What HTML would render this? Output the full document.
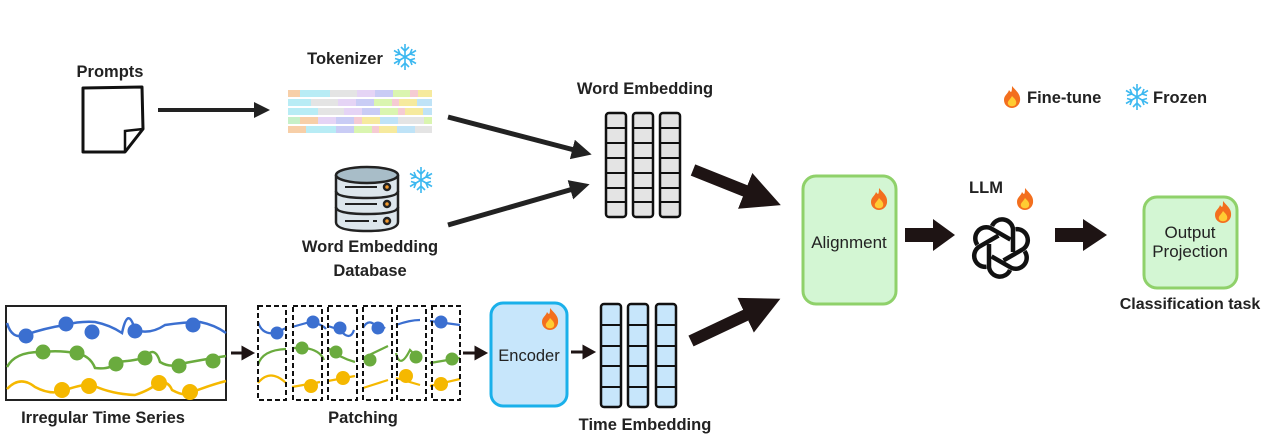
<!DOCTYPE html>
<html><head><meta charset="utf-8"><style>
html,body{margin:0;padding:0;background:#fff;}
svg{display:block;}
text{font-family:"Liberation Sans",sans-serif;font-weight:bold;fill:#222;}
.n{font-weight:normal;}
</style></head><body>
<svg width="1270" height="443" viewBox="0 0 1270 443" xmlns="http://www.w3.org/2000/svg">
<defs>
<marker id="ah" markerWidth="4" markerHeight="4" refX="2" refY="2" orient="auto" markerUnits="strokeWidth"><path d="M0,0 L4,2 L0,4 z" fill="#222"/></marker>
<marker id="ah2" markerWidth="3.2" markerHeight="3.2" refX="1.6" refY="1.6" orient="auto" markerUnits="strokeWidth"><path d="M0,0 L3.2,1.6 L0,3.2 z" fill="#1e1414"/></marker>
<g id="snow" stroke="#3cb8f0" stroke-width="1.6" fill="none">
<path d="M0,-13V13M-11,-6.5L11,6.5M-11,6.5L11,-6.5"/>
<path d="M-4,-10L0,-6L4,-10M-4,10L0,6L4,10M-10,-1.5L-5,-3L-7,-8M10,1.5L5,3L7,8M-10,1.5L-5,3L-7,8M10,-1.5L5,-3L7,-8"/>
</g>
<g id="fire"><path d="M0,-11 C4,-6 9,-3 8,4 C7,9 3,11 0,11 C-4,11 -8,8 -8,3 C-8,-2 -4,-3 -3,-7 C-1,-4 0,-4 0,-11z" fill="#f36f1e"/><path d="M0,-1 C3,2 5,4 4,7 C3,10 -3,10 -4,7 C-5,4 -2,3 0,-1z" fill="#ffcc33"/></g>
</defs>

<!-- Prompts -->
<text x="110" y="77" font-size="16.5" text-anchor="middle">Prompts</text>
<path d="M83,88 L142,87 L143,129 L125,152 L83,152 Z" fill="#fff" stroke="#111" stroke-width="3" stroke-linejoin="round"/>
<path d="M125,152 L125,131 L143,129" fill="none" stroke="#111" stroke-width="2.5"/>
<line x1="158" y1="110" x2="262" y2="110" stroke="#222" stroke-width="4" marker-end="url(#ah)"/>

<!-- Tokenizer -->
<text x="345" y="64" font-size="16.5" text-anchor="middle">Tokenizer</text>
<use href="#snow" x="405" y="57"/>
<g>
<rect x="288" y="90" width="12" height="7" fill="#f7cfa8"/><rect x="300" y="90" width="30" height="7" fill="#b8ecf5"/><rect x="330" y="90" width="27" height="7" fill="#e4e4e4"/><rect x="357" y="90" width="18" height="7" fill="#e5d4f5"/><rect x="375" y="90" width="18" height="7" fill="#c9ccf5"/><rect x="393" y="90" width="17" height="7" fill="#daf5b0"/><rect x="410" y="90" width="8" height="7" fill="#f5cbd3"/><rect x="418" y="90" width="14" height="7" fill="#f6ea9e"/>
<rect x="288" y="99" width="23" height="7" fill="#b8ecf5"/><rect x="311" y="99" width="27" height="7" fill="#e4e4e4"/><rect x="338" y="99" width="18" height="7" fill="#e5d4f5"/><rect x="356" y="99" width="18" height="7" fill="#c9ccf5"/><rect x="374" y="99" width="18" height="7" fill="#daf5b0"/><rect x="392" y="99" width="7" height="7" fill="#f5cbd3"/><rect x="399" y="99" width="18" height="7" fill="#f6ea9e"/><rect x="417" y="99" width="15" height="7" fill="#bfe3f7"/>
<rect x="288" y="108" width="30" height="7" fill="#b8ecf5"/><rect x="318" y="108" width="26" height="7" fill="#e4e4e4"/><rect x="344" y="108" width="18" height="7" fill="#e5d4f5"/><rect x="362" y="108" width="18" height="7" fill="#c9ccf5"/><rect x="380" y="108" width="18" height="7" fill="#daf5b0"/><rect x="398" y="108" width="7" height="7" fill="#f5cbd3"/><rect x="405" y="108" width="18" height="7" fill="#f6ea9e"/><rect x="423" y="108" width="9" height="7" fill="#bfe3f7"/>
<rect x="288" y="117" width="12" height="7" fill="#c6f0c8"/><rect x="300" y="117" width="18" height="7" fill="#f7cfa8"/><rect x="318" y="117" width="18" height="7" fill="#e5d4f5"/><rect x="336" y="117" width="18" height="7" fill="#c9ccf5"/><rect x="354" y="117" width="8" height="7" fill="#f5cbd3"/><rect x="362" y="117" width="18" height="7" fill="#f6ea9e"/><rect x="380" y="117" width="18" height="7" fill="#bfe3f7"/><rect x="398" y="117" width="26" height="7" fill="#e4e4e4"/><rect x="424" y="117" width="8" height="7" fill="#daf5b0"/>
<rect x="288" y="126" width="18" height="7" fill="#f7cfa8"/><rect x="306" y="126" width="30" height="7" fill="#b8ecf5"/><rect x="336" y="126" width="18" height="7" fill="#c9ccf5"/><rect x="354" y="126" width="18" height="7" fill="#daf5b0"/><rect x="372" y="126" width="7" height="7" fill="#f5cbd3"/><rect x="379" y="126" width="18" height="7" fill="#f6ea9e"/><rect x="397" y="126" width="18" height="7" fill="#bfe3f7"/><rect x="415" y="126" width="17" height="7" fill="#e4e4e4"/>
</g>
<line x1="448" y1="117" x2="582" y2="152" stroke="#222" stroke-width="5" marker-end="url(#ah)"/>
<line x1="448" y1="225" x2="580" y2="187" stroke="#222" stroke-width="5" marker-end="url(#ah)"/>

<!-- Database -->
<g stroke="#222" stroke-width="2.5">
<path d="M336,175 V222 Q336,231 367,231 Q398,231 398,222 V175" fill="#dde6ec"/>
<ellipse cx="367" cy="175" rx="31" ry="8" fill="#a8bdc8"/>
<path d="M336,191 Q336,198 367,198 Q398,198 398,191 M336,207 Q336,214 367,214 Q398,214 398,207" fill="none"/>
<path d="M345,187 H377 M345,204 H377 M345,221 H369 M373,221 H377" fill="none" stroke-width="2"/>
<circle cx="387" cy="187" r="3" fill="#f29a2e"/><circle cx="387" cy="204" r="3" fill="#f29a2e"/><circle cx="387" cy="221" r="3" fill="#f29a2e"/>
</g>
<use href="#snow" x="421" y="180"/>
<text x="370" y="252" font-size="16.5" text-anchor="middle">Word Embedding</text>
<text x="370" y="276" font-size="16.5" text-anchor="middle">Database</text>

<!-- Word Embedding -->
<text x="645" y="94" font-size="16.5" text-anchor="middle">Word Embedding</text>
<g fill="#e4e4e4" stroke="#111" stroke-width="2.5">
<rect x="606" y="113" width="20" height="104" rx="3"/><rect x="633" y="113" width="20" height="104" rx="3"/><rect x="660" y="113" width="20" height="104" rx="3"/>
</g>
<g stroke="#111" stroke-width="2"><path d="M606,128H626M606,143H626M606,158H626M606,173H626M606,188H626M606,202H626M633,128H653M633,143H653M633,158H653M633,173H653M633,188H653M633,202H653M660,128H680M660,143H680M660,158H680M660,173H680M660,188H680M660,202H680"/></g>

<line x1="693" y1="170" x2="763" y2="198" stroke="#1e1414" stroke-width="12" marker-end="url(#ah2)"/>
<line x1="691" y1="341" x2="763" y2="307" stroke="#1e1414" stroke-width="12" marker-end="url(#ah2)"/>

<!-- Alignment -->
<rect x="803" y="176" width="93" height="128" rx="13" fill="#d3f6d3" stroke="#8fd16a" stroke-width="3"/>
<text x="849" y="248" font-size="17" class="n" text-anchor="middle" fill="#222">Alignment</text>
<use href="#fire" x="879" y="199"/>
<path d="M905,228 H933 V219 L955,235 L933,251 V242 H905 Z" fill="#1e1414"/>

<!-- LLM -->
<text x="986" y="193" font-size="16.5" text-anchor="middle">LLM</text>
<use href="#fire" x="1025" y="199"/>
<g transform="translate(1001,248)" fill="none" stroke="#111" stroke-width="4.5">
<g id="pet"><path d="M-9,-22 A11,11 0 0 1 12,-19 L12,4"/></g>
<use href="#pet" transform="rotate(60)"/><use href="#pet" transform="rotate(120)"/><use href="#pet" transform="rotate(180)"/><use href="#pet" transform="rotate(240)"/><use href="#pet" transform="rotate(300)"/>
</g>
<path d="M1055,228 H1083 V219 L1107,235 L1083,251 V242 H1055 Z" fill="#1e1414"/>

<!-- Output Projection -->
<rect x="1144" y="197" width="93" height="91" rx="13" fill="#d3f6d3" stroke="#8fd16a" stroke-width="3"/>
<text x="1190" y="238" font-size="17" class="n" text-anchor="middle">Output</text>
<text x="1190" y="257" font-size="17" class="n" text-anchor="middle">Projection</text>
<use href="#fire" x="1223" y="212"/>
<text x="1190" y="309" font-size="16" text-anchor="middle">Classification task</text>

<!-- legend -->
<use href="#fire" x="1012" y="97"/>
<text x="1027" y="103" font-size="16.5">Fine-tune</text>
<use href="#snow" x="1137" y="97"/>
<text x="1153" y="103" font-size="16.5">Frozen</text>

<!-- Irregular time series -->
<rect x="6" y="306" width="220" height="94" fill="#fff" stroke="#222" stroke-width="2"/>
<path d="M7,323 Q12,340 25,335 Q45,328 65,325 Q80,321 95,322 Q110,325 122,333 Q128,305 135,330 Q150,335 165,325 Q185,322 200,322 Q215,325 226,333" fill="none" stroke="#3b6fd0" stroke-width="2.5"/>
<path d="M7,367 Q15,352 40,352 Q60,350 75,353 Q90,355 95,368 Q110,370 118,362 Q140,360 145,357 Q155,345 160,362 Q170,368 180,364 Q200,360 226,356" fill="none" stroke="#6aab3e" stroke-width="2.5"/>
<path d="M7,389 Q20,375 35,387 Q50,395 62,391 Q80,385 90,384 Q110,394 135,395 Q150,390 158,383 Q168,380 172,390 Q185,397 190,393 Q210,385 226,381" fill="none" stroke="#f5b800" stroke-width="2.5"/>
<g fill="#3b6fd0"><circle cx="26" cy="336" r="7.5"/><circle cx="66" cy="324" r="7.5"/><circle cx="92" cy="332" r="7.5"/><circle cx="135" cy="331" r="7.5"/><circle cx="193" cy="325" r="7.5"/></g>
<g fill="#6aab3e"><circle cx="43" cy="352" r="7.5"/><circle cx="77" cy="353" r="7.5"/><circle cx="116" cy="364" r="7.5"/><circle cx="145" cy="358" r="7.5"/><circle cx="179" cy="366" r="7.5"/><circle cx="213" cy="361" r="7.5"/></g>
<g fill="#f5b800"><circle cx="62" cy="390" r="8"/><circle cx="89" cy="386" r="8"/><circle cx="159" cy="383" r="8"/><circle cx="190" cy="392" r="8"/></g>
<text x="103" y="423" font-size="16.5" text-anchor="middle">Irregular Time Series</text>
<path d="M231,353 H243 V348 L252,353 L243,358 V353" fill="#1e1414" stroke="#1e1414" stroke-width="3"/>

<!-- Patching -->
<g fill="none" stroke-width="2.2">
<path d="M258,322 Q262,335 275,333 L286,328 M292,327 L310,322 Q322,324 326,329 M328,326 L340,330 Q350,342 354,330 M363,328 Q370,315 380,332 L385,327 M396,325 Q410,320 420,320 M430,321 L460,325" stroke="#3b6fd0"/>
<path d="M258,365 Q262,350 286,349 M292,348 L305,348 Q320,350 324,360 M328,348 Q340,358 355,362 M363,358 L388,346 M396,353 Q400,370 410,350 L418,358 M430,363 L460,358" stroke="#6aab3e"/>
<path d="M258,383 Q270,368 286,383 M292,387 L320,382 M328,381 L355,376 M363,388 L388,380 M396,378 L420,385 M430,386 L460,379" stroke="#f5b800"/>
</g>
<g fill="#3b6fd0"><circle cx="277" cy="333" r="6.5"/><circle cx="313" cy="322" r="6.5"/><circle cx="340" cy="328" r="6.5"/><circle cx="378" cy="328" r="6.5"/><circle cx="441" cy="322" r="6.5"/></g>
<g fill="#6aab3e"><circle cx="302" cy="348" r="6.5"/><circle cx="336" cy="352" r="6.5"/><circle cx="370" cy="360" r="6.5"/><circle cx="416" cy="357" r="6.5"/><circle cx="452" cy="359" r="6.5"/></g>
<g fill="#f5b800"><circle cx="311" cy="386" r="7"/><circle cx="343" cy="378" r="7"/><circle cx="406" cy="376" r="7"/><circle cx="441" cy="384" r="7"/></g>
<g fill="none" stroke="#111" stroke-width="2" stroke-dasharray="5,3">
<rect x="258" y="306" width="28" height="94"/><rect x="293" y="306" width="29" height="94"/><rect x="328" y="306" width="29" height="94"/><rect x="363" y="306" width="29" height="94"/><rect x="397" y="306" width="29" height="94"/><rect x="432" y="306" width="28" height="94"/>
</g>
<text x="363" y="423" font-size="16.5" text-anchor="middle">Patching</text>
<path d="M463,353 H476 V348 L485,353 L476,358 V353" fill="#1e1414" stroke="#1e1414" stroke-width="3"/>

<!-- Encoder -->
<rect x="491" y="303" width="76" height="103" rx="12" fill="#c7e6fb" stroke="#1ab0ea" stroke-width="3"/>
<text x="529" y="361" font-size="16.5" class="n" text-anchor="middle">Encoder</text>
<use href="#fire" x="550" y="319"/>
<path d="M571,352 H584 V347 L593,352 L584,357 V352" fill="#1e1414" stroke="#1e1414" stroke-width="3"/>

<!-- Time embedding -->
<g fill="#c7e6fb" stroke="#111" stroke-width="2.5">
<rect x="601" y="304" width="20" height="103" rx="3"/><rect x="628" y="304" width="20" height="103" rx="3"/><rect x="656" y="304" width="20" height="103" rx="3"/>
</g>
<g stroke="#111" stroke-width="2"><path d="M601,325H621M601,346H621M601,366H621M601,387H621M628,325H648M628,346H648M628,366H648M628,387H648M656,325H676M656,346H676M656,366H676M656,387H676"/></g>
<text x="645" y="430" font-size="16.5" text-anchor="middle">Time Embedding</text>
</svg>
</body></html>
